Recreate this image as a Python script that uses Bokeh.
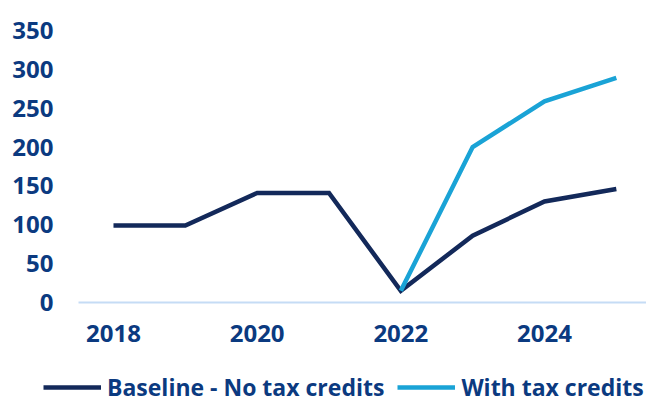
from bokeh.plotting import figure
from bokeh.models import Range1d, FixedTicker, Legend, LegendItem
from bokeh.layouts import column, row
from bokeh.embed import file_html
from bokeh.resources import INLINE

# data
years = [2018, 2019, 2020, 2021, 2022, 2023, 2024, 2025]
baseline = [99, 99, 141, 141, 15, 86, 130, 146]
credit_years = [2022, 2023, 2024, 2025]
with_credits = [15, 200, 259, 289]
x_ticks = [2018, 2020, 2022, 2024]
y_ticks = [0, 50, 100, 150, 200, 250, 300, 350]
labels = ["Baseline - No tax credits", "With tax credits"]

NAVY = "#13295A"
CYAN = "#1AA3D6"
TXT = "#0B3A80"
FONT = "Open Sans"
LW = 4.5

p = figure(width=646, height=370, output_backend="svg", toolbar_location=None,
           x_range=Range1d(2017.513, 2025.42), y_range=Range1d(0, 375.8),
           min_border_left=78, min_border_right=0, min_border_top=10, min_border_bottom=68)
p.outline_line_color = None
p.grid.visible = False

p.line(years, baseline, line_color=NAVY, line_width=LW, line_join="miter")
p.line(credit_years, with_credits, line_color=CYAN, line_width=LW, line_join="miter")

p.xaxis.ticker = FixedTicker(ticks=x_ticks)
p.yaxis.ticker = FixedTicker(ticks=y_ticks)
for ax in (p.xaxis, p.yaxis):
    ax.major_tick_line_color = None
    ax.minor_tick_line_color = None
    ax.major_tick_out = 0
    ax.major_tick_in = 0
    ax.major_label_text_font = FONT
    ax.major_label_text_font_style = "bold"
    ax.major_label_text_font_size = "24px"
    ax.major_label_text_color = TXT
p.yaxis.axis_line_color = None
p.yaxis.major_label_standoff = 25
p.xaxis.axis_line_color = "#C5DCF5"
p.xaxis.axis_line_width = 2
p.xaxis.major_label_standoff = 22

# legend strip below the chart
lg = figure(width=646, height=33, output_backend="svg", toolbar_location=None,
            x_range=Range1d(0, 1), y_range=Range1d(0, 1),
            x_axis_location=None, y_axis_location=None,
            min_border_left=0, min_border_right=0, min_border_top=0, min_border_bottom=0)
lg.grid.visible = False
lg.outline_line_color = None
l1 = lg.line([5, 6], [5, 6], line_color=NAVY, line_width=LW)
l2 = lg.line([5, 6], [5, 6], line_color=CYAN, line_width=LW)
legend = Legend(items=[LegendItem(label=labels[0], renderers=[l1]),
                       LegendItem(label=labels[1], renderers=[l2])],
                location=(43, 0), orientation="horizontal",
                glyph_width=58, glyph_height=20, label_standoff=6, spacing=13,
                padding=0, margin=0, border_line_color=None, background_fill_alpha=0,
                label_text_font=FONT, label_text_font_style="bold",
                label_text_font_size="23px", label_text_color=TXT,
                label_height=20)
lg.add_layout(legend)

page = column(p, row(lg, spacing=0), spacing=0)
open("out.html", "w").write(file_html(page, INLINE))
